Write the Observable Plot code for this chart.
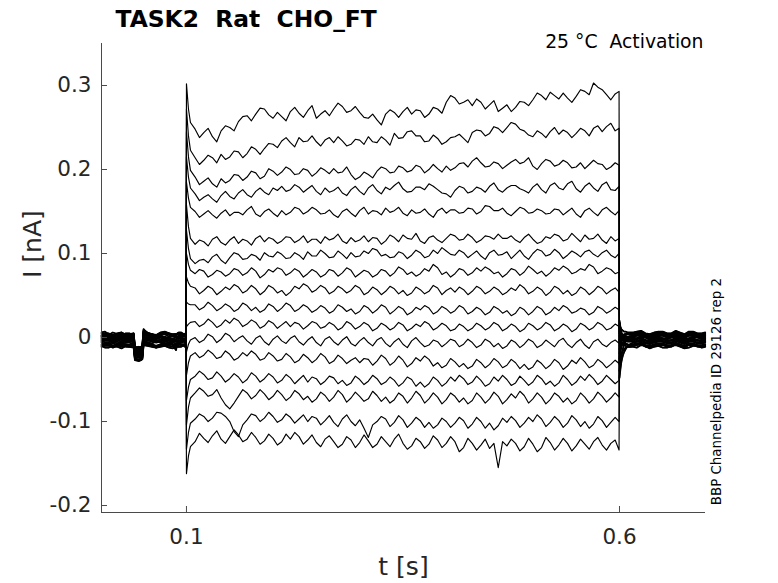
<!DOCTYPE html>
<html>
<head>
<meta charset="utf-8">
<script src="https://cdn.jsdelivr.net/npm/d3@7"></script>
<script src="https://cdn.jsdelivr.net/npm/@observablehq/plot@0.6"></script>
<style>
  html, body { margin: 0; padding: 0; background: #fff; }
  #chart svg text { white-space: pre; }
</style>
</head>
<body>
<div id="chart"></div>
<script>
// ---- Texts ----
const titleText = "TASK2  Rat  CHO_FT";
const conditionText = "25 °C  Activation";
const sideText = "BBP Channelpedia ID 29126 rep 2";
const xLabel = "t [s]";
const yLabel = "I [nA]";

// ---- Axes ----
const xDomain = [0.0019, 0.6993];
const yDomain = [-0.2083, 0.35];
const xTicks = [0.1, 0.6];
const xTickLabels = ["0.1", "0.6"];
const yTicks = [-0.2, -0.1, 0, 0.1, 0.2, 0.3];
const yTickLabels = ["-0.2", "-0.1", "0", "0.1", "0.2", "0.3"];

// ---- Sample times (s) ----
const preT = [0.002, 0.010, 0.020, 0.030, 0.039, 0.0405, 0.045, 0.049, 0.0505, 0.060, 0.070, 0.080, 0.088, 0.094, 0.0995];
const preMidT = [0.006, 0.015, 0.025, 0.034, 0.0475, 0.055, 0.065, 0.075, 0.084, 0.091, 0.097];
const stepT = [0.1, 0.1023, 0.1046,
  0.11, 0.12, 0.13, 0.14, 0.15, 0.16, 0.17, 0.18, 0.19, 0.20,
  0.21, 0.22, 0.23, 0.24, 0.25, 0.26, 0.27, 0.28, 0.29, 0.30,
  0.31, 0.32, 0.33, 0.34, 0.35, 0.36, 0.37, 0.38, 0.39, 0.40,
  0.41, 0.42, 0.43, 0.44, 0.45, 0.46, 0.47, 0.48, 0.49, 0.50,
  0.51, 0.52, 0.53, 0.54, 0.55, 0.56, 0.57, 0.58, 0.59,
  0.5995];
const stepMidT = [
  0.115, 0.125, 0.135, 0.145, 0.155, 0.165, 0.175, 0.185, 0.195, 0.205,
  0.215, 0.225, 0.235, 0.245, 0.255, 0.265, 0.275, 0.285, 0.295, 0.305,
  0.315, 0.325, 0.335, 0.345, 0.355, 0.365, 0.375, 0.385, 0.395, 0.405,
  0.415, 0.425, 0.435, 0.445, 0.455, 0.465, 0.475, 0.485, 0.495, 0.505,
  0.515, 0.525, 0.535, 0.545, 0.555, 0.565, 0.575, 0.585, 0.595];
const postT = [0.6, 0.6008, 0.602, 0.604, 0.607, 0.612, 0.62, 0.63, 0.64, 0.65, 0.66, 0.67, 0.68, 0.69, 0.699];
const postMidT = [0.6015, 0.603, 0.6055, 0.6095, 0.616, 0.625, 0.635, 0.645, 0.655, 0.665, 0.675, 0.685, 0.695];

// ---- Currents (nA), one row per sweep ----
const preValues = [
  [0.006, 0.004, 0.005, 0.003, 0.005, -0.011, -0.012, -0.010, 0.009, 0.004, 0.006, 0.005, 0.004, 0.006, 0.005],
  [-0.008, -0.010, -0.009, -0.008, -0.010, -0.025, -0.026, -0.024, -0.006, -0.009, -0.008, -0.010, -0.009, -0.008, -0.009],
  [0.001, 0.003, 0.002, 0.001, 0.003, -0.014, -0.015, -0.013, 0.006, 0.002, 0.003, 0.001, 0.002, 0.003, 0.001],
  [-0.005, -0.003, -0.004, -0.005, -0.003, -0.020, -0.019, -0.021, -0.002, -0.004, -0.005, -0.003, -0.004, -0.005, -0.004],
  [0.005, 0.003, 0.004, 0.005, 0.003, -0.012, -0.013, -0.011, 0.010, 0.004, 0.003, 0.005, 0.004, 0.003, 0.005],
  [-0.011, -0.009, -0.010, -0.011, -0.009, -0.026, -0.027, -0.025, -0.008, -0.010, -0.011, -0.009, -0.010, -0.011, -0.010],
  [0.000, -0.002, -0.001, 0.000, -0.002, -0.017, -0.018, -0.016, 0.002, -0.001, 0.000, -0.002, -0.015, -0.001, 0.000],
  [0.002, 0.004, 0.003, 0.002, 0.004, -0.013, -0.014, -0.012, 0.007, 0.003, 0.002, 0.004, 0.003, 0.002, 0.004],
  [-0.006, -0.008, -0.007, -0.006, -0.008, -0.023, -0.024, -0.022, -0.005, -0.007, -0.006, -0.008, -0.007, -0.006, -0.008],
  [-0.001, 0.001, 0.000, -0.001, 0.001, -0.016, -0.017, -0.015, 0.004, 0.000, 0.001, -0.001, 0.000, 0.001, -0.001],
  [-0.010, -0.012, -0.011, -0.010, -0.012, -0.027, -0.028, -0.026, -0.009, -0.011, -0.010, -0.012, -0.011, -0.010, -0.012],
  [0.003, 0.005, 0.004, 0.003, 0.005, -0.012, -0.011, -0.013, 0.008, 0.004, 0.005, 0.003, 0.004, 0.005, 0.003],
  [-0.004, -0.006, -0.005, -0.004, -0.006, -0.021, -0.022, -0.020, -0.003, -0.005, -0.004, -0.006, -0.005, -0.004, -0.006],
  [-0.003, -0.001, -0.002, -0.003, -0.001, -0.018, -0.019, -0.017, 0.001, -0.002, -0.003, -0.001, -0.002, -0.003, -0.001],
  [0.002, 0.000, 0.001, 0.002, 0.000, -0.015, -0.016, -0.014, 0.005, 0.001, 0.002, 0.000, 0.001, 0.002, 0.000],
  [-0.009, -0.007, -0.008, -0.009, -0.007, -0.024, -0.023, -0.025, -0.006, -0.008, -0.009, -0.007, -0.008, -0.009, -0.007],
  [-0.002, -0.004, -0.003, -0.002, -0.004, -0.019, -0.020, -0.018, 0.000, -0.003, -0.002, -0.004, -0.003, -0.002, -0.004]
];
const preMidValues = [
  [0.007, 0.003, 0.006, 0.004, -0.011, 0.006, 0.003, 0.007, 0.004, 0.006, 0.004],
  [-0.010, -0.007, -0.011, -0.009, -0.025, -0.007, -0.010, -0.008, -0.011, -0.009, -0.008],
  [0.003, 0.000, 0.004, 0.001, -0.014, 0.003, 0.000, 0.004, 0.002, 0.000, 0.003],
  [-0.003, -0.006, -0.002, -0.005, -0.020, -0.003, -0.006, -0.004, -0.002, -0.006, -0.003],
  [0.003, 0.006, 0.003, 0.005, -0.012, 0.005, 0.002, 0.006, 0.003, 0.005, 0.002],
  [-0.009, -0.012, -0.009, -0.011, -0.026, -0.009, -0.012, -0.010, -0.008, -0.011, -0.009],
  [-0.002, 0.001, -0.003, 0.000, -0.017, -0.002, 0.001, -0.003, -0.009, 0.001, -0.002],
  [0.004, 0.001, 0.005, 0.002, -0.013, 0.004, 0.001, 0.005, 0.002, 0.004, 0.001],
  [-0.008, -0.005, -0.009, -0.006, -0.023, -0.008, -0.005, -0.009, -0.006, -0.008, -0.005],
  [0.001, -0.002, 0.002, -0.001, -0.016, 0.002, -0.002, 0.001, -0.001, 0.002, -0.002],
  [-0.012, -0.010, -0.013, -0.011, -0.027, -0.010, -0.012, -0.010, -0.013, -0.011, -0.010],
  [0.005, 0.002, 0.006, 0.003, -0.012, 0.005, 0.002, 0.006, 0.003, 0.005, 0.002],
  [-0.006, -0.003, -0.007, -0.004, -0.021, -0.006, -0.003, -0.007, -0.004, -0.006, -0.003],
  [-0.001, -0.004, 0.000, -0.003, -0.018, -0.001, -0.004, -0.001, -0.003, 0.000, -0.003],
  [0.000, 0.003, -0.001, 0.002, -0.015, 0.000, 0.003, -0.001, 0.002, 0.000, 0.002],
  [-0.007, -0.010, -0.006, -0.009, -0.024, -0.007, -0.010, -0.007, -0.009, -0.006, -0.009],
  [-0.004, -0.001, -0.005, -0.002, -0.019, -0.004, -0.001, -0.005, -0.002, -0.004, -0.001]
];

const stepValues = [
  [0.302, 0.272, 0.256,
   0.248, 0.244, 0.239, 0.246, 0.250, 0.257, 0.264, 0.266, 0.272, 0.261,
   0.263, 0.269, 0.267, 0.270, 0.261, 0.270, 0.272, 0.275, 0.270, 0.268,
   0.261, 0.259, 0.266, 0.268, 0.269, 0.266, 0.270, 0.266, 0.272, 0.280,
   0.285, 0.280, 0.276, 0.280, 0.277, 0.269, 0.277, 0.274, 0.280, 0.283,
   0.288, 0.292, 0.284, 0.285, 0.287, 0.293, 0.303, 0.295, 0.283,
   0.293],
  [0.272, 0.240, 0.223,
   0.214, 0.211, 0.214, 0.218, 0.215, 0.221, 0.219, 0.224, 0.225, 0.230,
   0.234, 0.232, 0.238, 0.234, 0.233, 0.235, 0.232, 0.234, 0.230, 0.235,
   0.239, 0.232, 0.235, 0.243, 0.238, 0.246, 0.240, 0.234, 0.237, 0.233,
   0.239, 0.237, 0.244, 0.246, 0.243, 0.249, 0.250, 0.254, 0.246, 0.239,
   0.243, 0.245, 0.242, 0.244, 0.243, 0.246, 0.249, 0.245, 0.255,
   0.249],
  [0.245, 0.215, 0.199,
   0.191, 0.186, 0.183, 0.189, 0.187, 0.193, 0.191, 0.196, 0.192, 0.198,
   0.197, 0.200, 0.195, 0.199, 0.196, 0.199, 0.201, 0.197, 0.194, 0.191,
   0.194, 0.198, 0.201, 0.197, 0.202, 0.199, 0.203, 0.200, 0.201, 0.204,
   0.202, 0.208, 0.210, 0.208, 0.204, 0.207, 0.205, 0.212, 0.209, 0.204,
   0.207, 0.210, 0.206, 0.208, 0.203, 0.201, 0.211, 0.206, 0.203,
   0.205],
  [0.215, 0.191, 0.178,
   0.171, 0.167, 0.165, 0.169, 0.168, 0.172, 0.170, 0.174, 0.173, 0.178,
   0.180, 0.176, 0.179, 0.177, 0.174, 0.178, 0.175, 0.172, 0.176, 0.174,
   0.178, 0.175, 0.179, 0.181, 0.177, 0.174, 0.179, 0.183, 0.176, 0.171,
   0.175, 0.178, 0.174, 0.177, 0.180, 0.176, 0.178, 0.181, 0.175, 0.179,
   0.176, 0.181, 0.178, 0.183, 0.177, 0.180, 0.178, 0.182, 0.176,
   0.180],
  [0.185, 0.166, 0.155,
   0.150, 0.147, 0.146, 0.148, 0.145, 0.149, 0.152, 0.147, 0.150, 0.148,
   0.151, 0.149, 0.153, 0.150, 0.152, 0.148, 0.146, 0.150, 0.148, 0.151,
   0.147, 0.150, 0.154, 0.151, 0.148, 0.152, 0.149, 0.147, 0.151, 0.148,
   0.152, 0.149, 0.153, 0.150, 0.156, 0.151, 0.148, 0.150, 0.153, 0.149,
   0.151, 0.148, 0.152, 0.150, 0.147, 0.151, 0.149, 0.152, 0.150,
   0.151],
  [0.158, 0.132, 0.118,
   0.111, 0.114, 0.117, 0.113, 0.116, 0.112, 0.115, 0.118, 0.114, 0.117,
   0.115, 0.119, 0.116, 0.113, 0.117, 0.120, 0.118, 0.115, 0.119, 0.116,
   0.114, 0.118, 0.115, 0.119, 0.122, 0.117, 0.115, 0.119, 0.116, 0.118,
   0.121, 0.117, 0.119, 0.116, 0.120, 0.123, 0.118, 0.116, 0.119, 0.117,
   0.114, 0.118, 0.121, 0.117, 0.119, 0.122, 0.118, 0.116, 0.120,
   0.118],
  [0.128, 0.106, 0.094,
   0.088, 0.093, 0.096, 0.092, 0.095, 0.099, 0.094, 0.097, 0.101, 0.096,
   0.099, 0.095, 0.098, 0.102, 0.097, 0.100, 0.096, 0.099, 0.101, 0.097,
   0.100, 0.104, 0.099, 0.096, 0.100, 0.098, 0.101, 0.097, 0.100, 0.103,
   0.098, 0.101, 0.099, 0.097, 0.101, 0.098, 0.102, 0.099, 0.097, 0.100,
   0.103, 0.099, 0.101, 0.098, 0.100, 0.102, 0.099, 0.101, 0.098,
   0.100],
  [0.100, 0.087, 0.080,
   0.076, 0.079, 0.075, 0.078, 0.076, 0.080, 0.077, 0.079, 0.075, 0.078,
   0.081, 0.077, 0.079, 0.076, 0.078, 0.075, 0.079, 0.077, 0.080, 0.076,
   0.078, 0.075, 0.079, 0.077, 0.081, 0.078, 0.076, 0.079, 0.083, 0.078,
   0.076, 0.080, 0.077, 0.079, 0.081, 0.078, 0.076, 0.080, 0.078, 0.081,
   0.079, 0.077, 0.080, 0.082, 0.078, 0.080, 0.084, 0.079, 0.081,
   0.078],
  [0.072, 0.065, 0.061,
   0.059, 0.056, 0.058, 0.055, 0.057, 0.060, 0.056, 0.058, 0.055, 0.059,
   0.056, 0.054, 0.058, 0.061, 0.057, 0.059, 0.055, 0.058, 0.056, 0.059,
   0.054, 0.057, 0.055, 0.058, 0.056, 0.053, 0.057, 0.055, 0.059, 0.056,
   0.054, 0.057, 0.055, 0.058, 0.055, 0.057, 0.054, 0.056, 0.059, 0.055,
   0.057, 0.054, 0.058, 0.056, 0.053, 0.057, 0.055, 0.058, 0.056,
   0.054],
  [0.042, 0.040, 0.039,
   0.039, 0.036, 0.038, 0.035, 0.037, 0.034, 0.038, 0.036, 0.033, 0.037,
   0.035, 0.038, 0.034, 0.036, 0.033, 0.035, 0.032, 0.036, 0.034, 0.031,
   0.035, 0.033, 0.036, 0.032, 0.034, 0.030, 0.033, 0.035, 0.031, 0.034,
   0.032, 0.035, 0.031, 0.033, 0.030, 0.034, 0.032, 0.029, 0.033, 0.031,
   0.034, 0.030, 0.032, 0.035, 0.031, 0.033, 0.030, 0.034, 0.032,
   0.033],
  [0.013, 0.016, 0.018,
   0.019, 0.016, 0.018, 0.015, 0.017, 0.020, 0.016, 0.018, 0.014, 0.017,
   0.015, 0.013, 0.016, 0.014, 0.017, 0.013, 0.015, 0.012, 0.016, 0.013,
   0.015, 0.011, 0.014, 0.012, 0.015, 0.011, 0.013, 0.016, 0.012, 0.014,
   0.010, 0.013, 0.011, 0.014, 0.012, 0.015, 0.011, 0.013, 0.010, 0.014,
   0.012, 0.015, 0.011, 0.013, 0.010, 0.014, 0.012, 0.015, 0.011,
   0.013],
  [-0.017, -0.008, -0.003,
   0.000, -0.003, 0.001, -0.002, 0.002, -0.001, -0.004, -0.001, -0.005, -0.002,
   -0.004, -0.001, -0.005, -0.003, -0.006, -0.002, -0.005, -0.003, -0.007, -0.004,
   -0.006, -0.003, -0.007, -0.005, -0.008, -0.004, -0.006, -0.009, -0.005, -0.007,
   -0.004, -0.008, -0.006, -0.009, -0.005, -0.007, -0.010, -0.006, -0.008, -0.005,
   -0.009, -0.007, -0.004, -0.008, -0.006, -0.009, -0.005, -0.008, -0.006,
   -0.007],
  [-0.045, -0.030, -0.022,
   -0.018, -0.021, -0.019, -0.023, -0.020, -0.024, -0.022, -0.020, -0.025, -0.022,
   -0.026, -0.023, -0.027, -0.024, -0.026, -0.023, -0.028, -0.025, -0.027, -0.030,
   -0.026, -0.028, -0.025, -0.029, -0.027, -0.031, -0.028, -0.026, -0.030, -0.033,
   -0.029, -0.031, -0.034, -0.030, -0.032, -0.029, -0.033, -0.030, -0.032, -0.035,
   -0.031, -0.033, -0.030, -0.034, -0.031, -0.029, -0.033, -0.030, -0.032,
   -0.031],
  [-0.075, -0.059, -0.050,
   -0.046, -0.044, -0.048, -0.046, -0.049, -0.047, -0.050, -0.046, -0.049, -0.047,
   -0.051, -0.048, -0.050, -0.053, -0.049, -0.052, -0.048, -0.051, -0.054, -0.050,
   -0.052, -0.049, -0.053, -0.051, -0.054, -0.050, -0.053, -0.055, -0.051, -0.054,
   -0.052, -0.049, -0.053, -0.051, -0.055, -0.052, -0.050, -0.054, -0.051, -0.053,
   -0.049, -0.052, -0.054, -0.050, -0.053, -0.051, -0.049, -0.052, -0.050,
   -0.051],
  [-0.104, -0.083, -0.072,
   -0.066, -0.064, -0.068, -0.072, -0.085, -0.070, -0.066, -0.069, -0.067, -0.070,
   -0.068, -0.071, -0.067, -0.070, -0.073, -0.069, -0.071, -0.068, -0.072, -0.070,
   -0.073, -0.069, -0.071, -0.074, -0.070, -0.072, -0.069, -0.073, -0.071, -0.074,
   -0.070, -0.072, -0.075, -0.071, -0.073, -0.070, -0.074, -0.072, -0.069, -0.073,
   -0.071, -0.074, -0.070, -0.072, -0.075, -0.071, -0.073, -0.070, -0.072,
   -0.071],
  [-0.133, -0.113, -0.102,
   -0.097, -0.094, -0.096, -0.090, -0.100, -0.118, -0.098, -0.093, -0.096, -0.094,
   -0.098, -0.095, -0.097, -0.100, -0.096, -0.099, -0.101, -0.097, -0.100, -0.098,
   -0.119, -0.100, -0.097, -0.101, -0.098, -0.102, -0.099, -0.101, -0.104, -0.100,
   -0.102, -0.099, -0.103, -0.100, -0.102, -0.105, -0.101, -0.099, -0.102, -0.100,
   -0.097, -0.101, -0.099, -0.102, -0.098, -0.100, -0.103, -0.099, -0.101,
   -0.100],
  [-0.162, -0.141, -0.130,
   -0.124, -0.120, -0.117, -0.121, -0.118, -0.116, -0.121, -0.119, -0.123, -0.120,
   -0.124, -0.121, -0.118, -0.122, -0.125, -0.121, -0.124, -0.127, -0.122, -0.125,
   -0.123, -0.127, -0.124, -0.121, -0.126, -0.129, -0.124, -0.127, -0.122, -0.126,
   -0.124, -0.131, -0.126, -0.128, -0.132, -0.155, -0.129, -0.126, -0.130, -0.127,
   -0.131, -0.125, -0.128, -0.126, -0.129, -0.127, -0.124, -0.128, -0.126,
   -0.134]
];

const stepMidValues = [
  [0.238, 0.249, 0.233, 0.252, 0.246, 0.263, 0.258, 0.273, 0.265, 0.268,
   0.258, 0.274, 0.262, 0.276, 0.266, 0.264, 0.279, 0.268, 0.275, 0.262,
   0.266, 0.253, 0.271, 0.262, 0.274, 0.271, 0.262, 0.274, 0.267, 0.288,
   0.278, 0.283, 0.284, 0.272, 0.282, 0.273, 0.269, 0.281, 0.276, 0.291,
   0.283, 0.288, 0.291, 0.280, 0.295, 0.289, 0.298, 0.289, 0.290],
  [0.206, 0.217, 0.208, 0.212, 0.222, 0.214, 0.227, 0.218, 0.231, 0.226,
   0.238, 0.227, 0.233, 0.240, 0.228, 0.238, 0.239, 0.228, 0.236, 0.230,
   0.233, 0.239, 0.229, 0.237, 0.245, 0.240, 0.233, 0.241, 0.230, 0.238,
   0.242, 0.232, 0.247, 0.240, 0.251, 0.244, 0.256, 0.248, 0.241, 0.246,
   0.238, 0.250, 0.247, 0.238, 0.249, 0.240, 0.252, 0.251, 0.246],
  [0.182, 0.190, 0.179, 0.184, 0.194, 0.187, 0.198, 0.189, 0.201, 0.193,
   0.203, 0.194, 0.201, 0.192, 0.202, 0.195, 0.196, 0.203, 0.188, 0.197,
   0.190, 0.203, 0.196, 0.204, 0.197, 0.205, 0.196, 0.206, 0.197, 0.199,
   0.207, 0.203, 0.214, 0.203, 0.209, 0.201, 0.209, 0.207, 0.214, 0.200,
   0.212, 0.204, 0.211, 0.202, 0.208, 0.206, 0.207, 0.200, 0.208],
  [0.163, 0.170, 0.161, 0.174, 0.165, 0.176, 0.167, 0.178, 0.170, 0.175,
   0.174, 0.182, 0.173, 0.181, 0.170, 0.173, 0.179, 0.169, 0.180, 0.170,
   0.182, 0.171, 0.176, 0.185, 0.173, 0.179, 0.176, 0.180, 0.172, 0.167,
   0.180, 0.172, 0.179, 0.173, 0.184, 0.173, 0.181, 0.177, 0.172, 0.183,
   0.172, 0.184, 0.176, 0.186, 0.173, 0.184, 0.174, 0.185, 0.175],
  [0.143, 0.151, 0.142, 0.152, 0.149, 0.146, 0.156, 0.144, 0.153, 0.144,
   0.146, 0.155, 0.147, 0.155, 0.147, 0.152, 0.143, 0.153, 0.144, 0.155,
   0.151, 0.146, 0.149, 0.155, 0.145, 0.148, 0.153, 0.143, 0.154, 0.152,
   0.148, 0.154, 0.147, 0.157, 0.151, 0.154, 0.145, 0.155, 0.148, 0.153,
   0.147, 0.153, 0.146, 0.154, 0.143, 0.154, 0.145, 0.155, 0.146],
  [0.116, 0.109, 0.120, 0.110, 0.120, 0.117, 0.110, 0.121, 0.119, 0.112,
   0.120, 0.113, 0.121, 0.117, 0.112, 0.116, 0.123, 0.112, 0.114, 0.121,
   0.119, 0.111, 0.122, 0.114, 0.118, 0.124, 0.112, 0.121, 0.113, 0.123,
   0.116, 0.123, 0.113, 0.121, 0.117, 0.118, 0.121, 0.113, 0.123, 0.112,
   0.120, 0.123, 0.115, 0.124, 0.114, 0.117, 0.123, 0.112, 0.115],
  [0.092, 0.089, 0.099, 0.088, 0.101, 0.093, 0.099, 0.092, 0.097, 0.102,
   0.094, 0.101, 0.093, 0.097, 0.104, 0.095, 0.103, 0.094, 0.096, 0.103,
   0.106, 0.097, 0.095, 0.102, 0.094, 0.104, 0.095, 0.104, 0.107, 0.099,
   0.104, 0.095, 0.103, 0.093, 0.104, 0.099, 0.094, 0.104, 0.093, 0.105,
   0.097, 0.105, 0.094, 0.103, 0.096, 0.104, 0.096, 0.104, 0.095],
  [0.081, 0.072, 0.080, 0.073, 0.082, 0.074, 0.083, 0.071, 0.081, 0.083,
   0.074, 0.082, 0.072, 0.081, 0.072, 0.081, 0.073, 0.083, 0.072, 0.080,
   0.072, 0.081, 0.073, 0.084, 0.075, 0.073, 0.082, 0.087, 0.075, 0.072,
   0.082, 0.074, 0.083, 0.084, 0.076, 0.072, 0.082, 0.074, 0.085, 0.076,
   0.073, 0.083, 0.085, 0.076, 0.082, 0.087, 0.076, 0.083, 0.076],
  [0.052, 0.061, 0.051, 0.060, 0.063, 0.053, 0.062, 0.051, 0.062, 0.053,
   0.050, 0.061, 0.064, 0.054, 0.062, 0.052, 0.061, 0.053, 0.062, 0.051,
   0.060, 0.051, 0.061, 0.052, 0.050, 0.060, 0.052, 0.062, 0.051, 0.059,
   0.060, 0.051, 0.061, 0.052, 0.060, 0.051, 0.059, 0.063, 0.052, 0.060,
   0.050, 0.061, 0.052, 0.050, 0.060, 0.051, 0.061, 0.052, 0.059],
  [0.033, 0.042, 0.032, 0.040, 0.031, 0.041, 0.032, 0.030, 0.040, 0.031,
   0.041, 0.031, 0.039, 0.030, 0.038, 0.029, 0.039, 0.031, 0.028, 0.038,
   0.029, 0.039, 0.028, 0.037, 0.027, 0.036, 0.038, 0.028, 0.037, 0.029,
   0.038, 0.028, 0.036, 0.027, 0.037, 0.029, 0.026, 0.036, 0.027, 0.037,
   0.027, 0.036, 0.038, 0.029, 0.035, 0.027, 0.037, 0.029, 0.036],
  [0.013, 0.022, 0.012, 0.021, 0.023, 0.013, 0.021, 0.011, 0.020, 0.011,
   0.019, 0.018, 0.010, 0.019, 0.011, 0.018, 0.009, 0.019, 0.010, 0.018,
   0.008, 0.017, 0.009, 0.018, 0.008, 0.016, 0.019, 0.009, 0.017, 0.008,
   0.016, 0.008, 0.017, 0.009, 0.018, 0.008, 0.016, 0.007, 0.017, 0.009,
   0.018, 0.008, 0.016, 0.007, 0.017, 0.009, 0.018, 0.009, 0.016],
  [-0.006, 0.004, -0.006, 0.005, -0.005, 0.002, -0.008, 0.002, -0.009, 0.002,
   -0.007, 0.002, -0.009, 0.001, -0.010, 0.001, -0.009, 0.001, -0.010, 0.000,
   -0.010, 0.000, -0.011, -0.001, -0.012, 0.000, -0.011, -0.003, -0.011, -0.002,
   -0.011, -0.002, -0.012, -0.002, -0.011, -0.013, -0.003, -0.012, -0.002, -0.012,
   -0.003, -0.011, -0.001, -0.012, -0.002, -0.013, -0.002, -0.011, -0.003],
  [-0.024, -0.015, -0.025, -0.016, -0.027, -0.018, -0.016, -0.027, -0.018, -0.028,
   -0.019, -0.030, -0.020, -0.030, -0.019, -0.031, -0.021, -0.031, -0.024, -0.025,
   -0.033, -0.021, -0.033, -0.022, -0.035, -0.024, -0.022, -0.034, -0.036, -0.025,
   -0.035, -0.037, -0.026, -0.036, -0.025, -0.036, -0.026, -0.037, -0.038, -0.027,
   -0.037, -0.026, -0.038, -0.027, -0.024, -0.036, -0.026, -0.036, -0.027],
  [-0.040, -0.050, -0.041, -0.053, -0.043, -0.054, -0.042, -0.053, -0.043, -0.054,
   -0.044, -0.055, -0.045, -0.047, -0.056, -0.046, -0.055, -0.057, -0.046, -0.056,
   -0.045, -0.056, -0.047, -0.058, -0.047, -0.058, -0.059, -0.047, -0.058, -0.047,
   -0.045, -0.056, -0.046, -0.058, -0.047, -0.045, -0.057, -0.046, -0.057, -0.045,
   -0.056, -0.058, -0.045, -0.057, -0.046, -0.044, -0.056, -0.045, -0.055],
  [-0.060, -0.070, -0.062, -0.080, -0.078, -0.062, -0.073, -0.062, -0.074, -0.063,
   -0.075, -0.063, -0.074, -0.077, -0.065, -0.076, -0.063, -0.077, -0.065, -0.076,
   -0.064, -0.076, -0.078, -0.066, -0.078, -0.064, -0.078, -0.066, -0.079, -0.066,
   -0.077, -0.079, -0.066, -0.078, -0.065, -0.079, -0.067, -0.064, -0.078, -0.066,
   -0.079, -0.066, -0.077, -0.079, -0.066, -0.078, -0.065, -0.077, -0.066],
  [-0.091, -0.100, -0.089, -0.094, -0.112, -0.104, -0.091, -0.100, -0.089, -0.101,
   -0.091, -0.102, -0.092, -0.094, -0.104, -0.093, -0.106, -0.092, -0.105, -0.108,
   -0.104, -0.094, -0.106, -0.093, -0.107, -0.095, -0.107, -0.108, -0.096, -0.107,
   -0.095, -0.108, -0.095, -0.108, -0.110, -0.096, -0.094, -0.107, -0.095, -0.092,
   -0.106, -0.094, -0.107, -0.093, -0.106, -0.108, -0.094, -0.107, -0.095],
  [-0.114, -0.125, -0.111, -0.126, -0.110, -0.124, -0.113, -0.127, -0.115, -0.128,
   -0.115, -0.113, -0.127, -0.116, -0.130, -0.117, -0.131, -0.118, -0.131, -0.116,
   -0.131, -0.118, -0.130, -0.115, -0.133, -0.120, -0.132, -0.117, -0.131, -0.118,
   -0.136, -0.120, -0.134, -0.121, -0.126, -0.124, -0.121, -0.135, -0.120, -0.136,
   -0.119, -0.134, -0.120, -0.135, -0.121, -0.133, -0.119, -0.134, -0.122]
];

const postValues = [
  [-0.048, -0.040, -0.030, -0.021, -0.014, -0.008, -0.005, -0.007, -0.006, -0.005, -0.007, -0.006, -0.005, -0.007, -0.006],
  [-0.040, -0.032, -0.022, -0.013, -0.005, 0.001, 0.004, 0.002, 0.003, 0.004, 0.002, 0.003, 0.004, 0.002, 0.003],
  [-0.032, -0.027, -0.021, -0.016, -0.012, -0.011, -0.009, -0.011, -0.010, -0.009, -0.011, -0.010, -0.009, -0.011, -0.010],
  [-0.025, -0.019, -0.012, -0.006, -0.002, 0.000, 0.002, 0.000, 0.001, 0.002, 0.000, 0.001, 0.002, 0.000, 0.001],
  [-0.019, -0.015, -0.010, -0.006, -0.004, -0.003, -0.002, -0.004, -0.003, -0.002, -0.004, -0.003, -0.002, -0.004, -0.003],
  [-0.014, -0.009, -0.003, 0.001, 0.004, 0.005, 0.006, 0.004, 0.005, 0.006, 0.004, 0.005, 0.006, 0.004, 0.005],
  [-0.010, -0.009, -0.009, -0.008, -0.008, -0.009, -0.007, -0.009, -0.008, -0.007, -0.009, -0.008, -0.007, -0.009, -0.008],
  [-0.006, -0.005, -0.003, -0.002, -0.001, 0.000, -0.002, 0.000, -0.001, -0.002, 0.000, -0.001, -0.002, 0.000, -0.001],
  [-0.003, -0.001, 0.001, 0.003, 0.004, 0.003, 0.005, 0.003, 0.004, 0.005, 0.003, 0.004, 0.005, 0.003, 0.004],
  [0.002, -0.001, -0.005, -0.008, -0.010, -0.011, -0.012, -0.010, -0.011, -0.012, -0.010, -0.011, -0.012, -0.010, -0.011],
  [0.005, 0.004, 0.003, 0.002, 0.002, 0.001, 0.003, 0.001, 0.002, 0.003, 0.001, 0.002, 0.003, 0.001, 0.002],
  [0.008, 0.005, 0.001, -0.002, -0.004, -0.005, -0.004, -0.006, -0.005, -0.004, -0.006, -0.005, -0.004, -0.006, -0.005],
  [0.011, 0.008, 0.005, 0.002, 0.001, 0.000, -0.001, 0.001, 0.000, -0.001, 0.001, 0.000, -0.001, 0.001, 0.000],
  [0.013, 0.008, 0.001, -0.004, -0.007, -0.009, -0.008, -0.010, -0.009, -0.008, -0.010, -0.009, -0.008, -0.010, -0.009],
  [0.016, 0.013, 0.010, 0.008, 0.007, 0.006, 0.007, 0.005, 0.006, 0.007, 0.005, 0.006, 0.007, 0.005, 0.006],
  [0.018, 0.012, 0.005, 0.000, -0.003, -0.004, -0.005, -0.003, -0.004, -0.005, -0.003, -0.004, -0.005, -0.003, -0.004],
  [0.020, 0.014, 0.007, 0.002, -0.001, -0.002, -0.001, -0.003, -0.002, -0.001, -0.003, -0.002, -0.001, -0.003, -0.002]
];
const postMidValues = [
  [-0.034, -0.025, -0.017, -0.010, -0.006, -0.004, -0.008, -0.005, -0.007, -0.004, -0.008, -0.005, -0.007],
  [-0.026, -0.017, -0.008, -0.001, 0.003, 0.005, 0.001, 0.004, 0.002, 0.005, 0.001, 0.004, 0.002],
  [-0.024, -0.018, -0.014, -0.011, -0.010, -0.008, -0.012, -0.009, -0.011, -0.008, -0.012, -0.009, -0.011],
  [-0.015, -0.009, -0.004, -0.001, 0.001, 0.003, -0.001, 0.002, 0.000, 0.003, -0.001, 0.002, 0.000],
  [-0.012, -0.008, -0.005, -0.003, -0.003, -0.001, -0.005, -0.002, -0.004, -0.001, -0.005, -0.002, -0.004],
  [-0.006, -0.001, 0.003, 0.005, 0.005, 0.007, 0.003, 0.006, 0.004, 0.007, 0.003, 0.006, 0.004],
  [-0.009, -0.008, -0.008, -0.009, -0.008, -0.006, -0.010, -0.007, -0.009, -0.006, -0.010, -0.007, -0.009],
  [-0.004, -0.002, -0.001, 0.000, -0.001, 0.001, -0.003, 0.000, -0.002, 0.001, -0.003, 0.000, -0.002],
  [0.000, 0.002, 0.004, 0.004, 0.004, 0.006, 0.002, 0.005, 0.003, 0.006, 0.002, 0.005, 0.003],
  [-0.003, -0.007, -0.009, -0.011, -0.011, -0.009, -0.013, -0.010, -0.012, -0.009, -0.013, -0.010, -0.012],
  [0.003, 0.002, 0.002, 0.001, 0.002, 0.004, 0.000, 0.003, 0.001, 0.004, 0.000, 0.003, 0.001],
  [0.003, -0.001, -0.003, -0.005, -0.005, -0.003, -0.007, -0.004, -0.006, -0.003, -0.007, -0.004, -0.006],
  [0.006, 0.003, 0.001, 0.000, 0.000, 0.002, -0.002, 0.001, -0.001, 0.002, -0.002, 0.001, -0.001],
  [0.004, -0.002, -0.006, -0.008, -0.009, -0.007, -0.011, -0.008, -0.010, -0.007, -0.011, -0.008, -0.010],
  [0.011, 0.009, 0.007, 0.006, 0.006, 0.008, 0.004, 0.007, 0.005, 0.008, 0.004, 0.007, 0.005],
  [0.008, 0.002, -0.002, -0.004, -0.004, -0.002, -0.006, -0.003, -0.005, -0.002, -0.006, -0.003, -0.005],
  [0.010, 0.004, 0.000, -0.002, -0.002, 0.000, -0.004, -0.001, -0.003, 0.000, -0.004, -0.001, -0.003]
];

// ---- Build long table (one row per sample) ----
const rows = [];
preValues.forEach((_, i) => {
  const pts = [];
  const add = (seg, times, vals) => times.forEach((t, j) => {
    if (vals[j] !== undefined) pts.push({sweep: i, seg, t, I: vals[j]});
  });
  add("pre", preT, preValues[i]);
  add("pre", preMidT, preMidValues[i]);
  add("step", stepT, stepValues[i]);
  add("step", stepMidT, stepMidValues[i]);
  add("post", postT, postValues[i]);
  add("post", postMidT, postMidValues[i]);
  pts.sort((a, b) => a.t - b.t);
  rows.push(...pts);
});
const holdingRows = rows.filter(d => d.seg !== "step");

const W = 778, H = 583;
const mL = 101, mR = 73, mT = 43, mB = 71;
const plotW = W - mL - mR, plotH = H - mT - mB;
const axisColor = "#4a4a4a";
const labelColor = "#262626";

const chart = Plot.plot({
  width: W,
  height: H,
  marginLeft: mL,
  marginRight: mR,
  marginTop: mT,
  marginBottom: mB,
  style: {fontFamily: "DejaVu Sans", background: "#fff", color: "#000", overflow: "visible"},
  x: {domain: xDomain},
  y: {domain: yDomain},
  marks: [
    Plot.line(rows, {x: "t", y: "I", z: "sweep", stroke: "#000", strokeWidth: 1.15, curve: "linear"}),
    // holding-potential segments of the same sweeps, drawn heavier so the overlapped band reads solid
    Plot.line(holdingRows, {x: "t", y: "I", z: d => d.seg + d.sweep, stroke: "#000", strokeWidth: 1.8, curve: "linear"}),
    // axis lines
    Plot.ruleX([xDomain[0]], {stroke: axisColor, strokeWidth: 1}),
    Plot.ruleY([yDomain[0]], {stroke: axisColor, strokeWidth: 1}),
    // inward ticks
    Plot.ruleX(xTicks, {x: d => d, insetTop: plotH - 6, stroke: axisColor}),
    Plot.ruleY(yTicks, {y: d => d, insetRight: plotW - 6, stroke: axisColor}),
    Plot.axisX({ticks: xTicks, tickSize: 0, tickPadding: 16, fontSize: 21.5, fill: labelColor,
      tickFormat: d => xTickLabels[xTicks.indexOf(d)], label: null}),
    Plot.axisY({ticks: yTicks, tickSize: 0, tickPadding: 10, fontSize: 21.5, fill: labelColor,
      tickFormat: d => yTickLabels[yTicks.indexOf(d)], label: null}),
    // axis labels
    Plot.text([xLabel], {text: d => d, frameAnchor: "bottom", dy: 54, fontSize: 25, fill: labelColor, lineAnchor: "middle"}),
    Plot.text([yLabel], {text: d => d, frameAnchor: "left", dx: -69, rotate: -90, fontSize: 25, fill: labelColor, lineAnchor: "middle"}),
    // title and annotations
    Plot.text([titleText], {text: d => d, frameAnchor: "top-left", textAnchor: "start", dx: 14, dy: -24.5,
      fontSize: 23.4, fontWeight: "bold", fill: "#000", lineAnchor: "middle"}),
    Plot.text([conditionText], {text: d => d, frameAnchor: "top-right", textAnchor: "end", dx: -2, dy: -2,
      fontSize: 18.8, fill: "#000", lineAnchor: "middle"}),
    Plot.text([sideText], {text: d => d, frameAnchor: "right", dx: 11, rotate: -90,
      fontSize: 13.4, fill: "#000", lineAnchor: "middle"})
  ]
});
document.getElementById("chart").appendChild(chart);
</script>
</body>
</html>
